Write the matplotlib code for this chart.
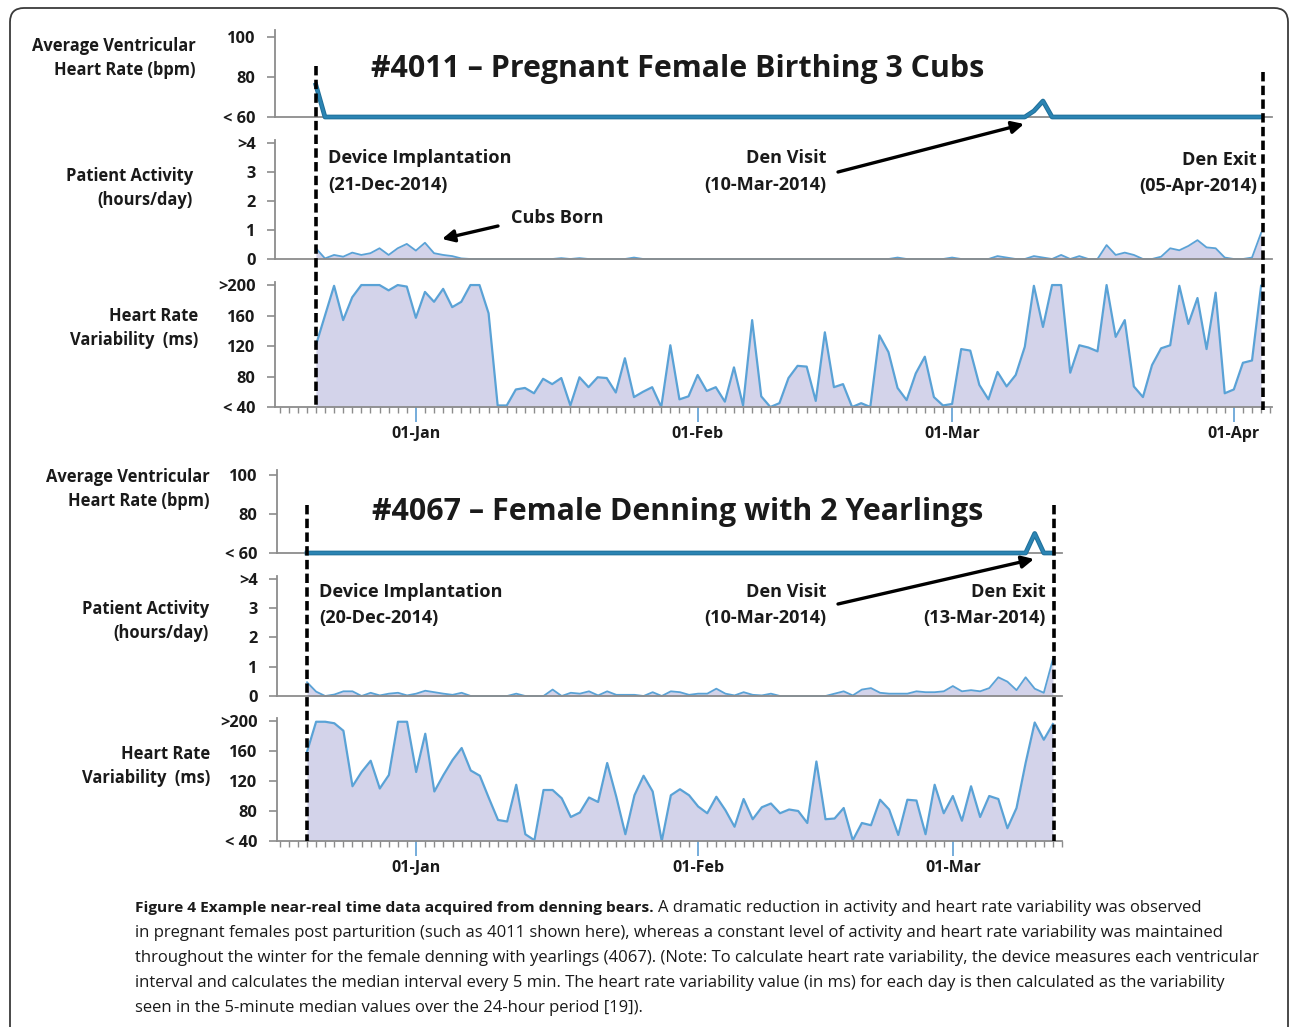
import numpy as np
import matplotlib
matplotlib.use('Agg')
import matplotlib.pyplot as plt
from matplotlib.lines import Line2D
from matplotlib.patches import FancyBboxPatch
from matplotlib.transforms import blended_transform_factory, IdentityTransform

plt.rcParams['font.family'] = ['Open Sans', 'DejaVu Sans']

# ---------------- data (day 0 = 01-Jan) ----------------
month_ticks = [0, 31, 59, 90]
month_labels = ['01-Jan', '01-Feb', '01-Mar', '01-Apr']

hr_ticks = [60, 80, 100]
hr_labels = ['< 60', '80', '100']
act_ticks = [0, 1, 2, 3, 4]
act_labels = ['0', '1', '2', '3', '>4']
hrv_ticks = [40, 80, 120, 160, 200]
hrv_labels = ['< 40', '80', '120', '160', '>200']

# Bear #4011 (first day 21-Dec = day -11)
b4011_start = -11
b4011_hr = [76] + [60] * 78 + [63, 68] + [60] * 24
b4011_activity = [0.37, 0.02, 0.14, 0.08, 0.22, 0.14, 0.20, 0.37, 0.14, 0.37, 0.52,
                  0.29, 0.56, 0.20, 0.14, 0.10, 0.02, 0, 0, 0, 0,
                  0, 0, 0, 0, 0, 0, 0.03, 0, 0.03, 0,
                  0, 0, 0, 0, 0.05, 0, 0, 0, 0, 0,
                  0, 0, 0, 0, 0, 0, 0, 0, 0, 0,
                  0, 0, 0, 0, 0, 0, 0, 0, 0, 0,
                  0, 0, 0, 0.05, 0, 0, 0, 0, 0, 0.05,
                  0, 0, 0, 0, 0.10, 0.05, 0, 0, 0.10, 0.05,
                  0, 0.14, 0, 0.10, 0, 0, 0.48, 0.14, 0.22, 0.14,
                  0, 0, 0.08, 0.37, 0.30, 0.45, 0.65, 0.40, 0.37, 0.05,
                  0, 0, 0.05, 0.90]
b4011_hrv = [121, 160, 199, 154, 184, 200, 200, 200, 193, 200, 198,
             157, 191, 178, 195, 171, 178, 200, 200, 163, 42,
             42, 63, 65, 58, 77, 70, 78, 42, 79, 66,
             79, 78, 59, 104, 53, 60, 66, 40, 121, 50,
             54, 82, 61, 66, 47, 92, 42, 154, 54, 40,
             45, 78, 94, 93, 48, 138, 66, 70, 40, 45,
             40, 134, 112, 65, 49, 84, 106, 53, 42, 44,
             116, 114, 69, 50, 86, 67, 82, 119, 199, 145,
             200, 200, 85, 121, 118, 113, 200, 132, 154, 67,
             53, 95, 117, 121, 199, 149, 183, 116, 190, 58,
             63, 98, 101, 199]
b4011_events = [-11, 93.2]

# Bear #4067 (first day 20-Dec = day -12)
b4067_start = -12
b4067_hr = [60] * 80 + [70] + [60] * 2
b4067_activity = [0.47, 0.15, 0, 0.05, 0.16, 0.16, 0, 0.11, 0.02, 0.08, 0.11, 0.02,
                  0.08, 0.18, 0.13, 0.08, 0.04, 0.11, 0, 0, 0, 0,
                  0, 0.08, 0, 0, 0, 0.22, 0, 0.11, 0.08, 0.16,
                  0.02, 0.16, 0.04, 0.04, 0.04, 0, 0.13, 0, 0.16, 0.13,
                  0.04, 0.08, 0.08, 0.25, 0.08, 0.02, 0.13, 0.04, 0.02, 0.08,
                  0, 0, 0, 0, 0, 0, 0.08, 0.16, 0.02, 0.22,
                  0.27, 0.11, 0.08, 0.08, 0.08, 0.16, 0.13, 0.13, 0.16, 0.34,
                  0.16, 0.20, 0.16, 0.27, 0.64, 0.49, 0.20, 0.64, 0.25, 0.11,
                  1.26]
b4067_hrv = [159, 199, 199, 197, 187, 113, 132, 147, 110, 128, 199, 199,
             132, 183, 106, 128, 148, 164, 134, 127, 97, 68,
             66, 115, 49, 41, 108, 108, 97, 72, 78, 98,
             92, 144, 99, 49, 101, 127, 106, 40, 101, 109,
             101, 86, 77, 99, 81, 59, 96, 69, 85, 90,
             77, 82, 80, 64, 146, 69, 70, 84, 41, 64,
             61, 95, 82, 48, 95, 94, 49, 115, 77, 100,
             67, 113, 72, 100, 96, 57, 84, 144, 198, 175,
             196]
b4067_events = [-12, 70.1]

# ---------------- figure ----------------
W, H = 1290, 1027
fig = plt.figure(figsize=(W / 100, H / 100), dpi=100)


def fx(x):
    return x / W


def fy(y):
    return 1 - y / H


def rect(x0, x1, ytop, ybot):
    return [fx(x0), fy(ybot), (x1 - x0) / W, (ybot - ytop) / H]


GRAY = '#8c8c8c'
FILL = '#d3d3ea'
LINE = '#5aa2d6'
HRC = '#2b84b3'
TXT = '#1a1a1a'
TICK_FS = 11.8
MONTH_FS = 11.5
LAB_FS = 11.9
ANN_FS = 13.1
TITLE_FS = 21.9


def base_style(ax, ticks, labels, ylim, xlim):
    ax.set_xlim(*xlim)
    ax.set_ylim(*ylim)
    for s in ['top', 'right']:
        ax.spines[s].set_visible(False)
    for s in ['left', 'bottom']:
        ax.spines[s].set_color(GRAY)
        ax.spines[s].set_linewidth(1.3)
    ax.set_yticks(ticks)
    ax.set_yticklabels(labels, fontweight='bold', fontsize=TICK_FS, color=TXT)
    ax.tick_params(axis='y', direction='out', length=6, width=1.2, color=GRAY, pad=8)
    ax.set_xticks([])
    ax.patch.set_alpha(0)


def panel(x0, x1, rows, xlim, start, hr, act, hrv, events, ev_y):
    (hr_t, hr_b, hr_top), (a_t, a_b, a_top), (v_t, v_b, v_top) = rows
    ax_hr = fig.add_axes(rect(x0, x1, hr_t, hr_b))
    ax_act = fig.add_axes(rect(x0, x1, a_t, a_b))
    ax_hrv = fig.add_axes(rect(x0, x1, v_t, v_b))
    base_style(ax_hr, hr_ticks, hr_labels, (60, hr_top), xlim)
    base_style(ax_act, act_ticks, act_labels, (0, a_top), xlim)
    base_style(ax_hrv, hrv_ticks, hrv_labels, (40, v_top), xlim)

    d_hr = np.arange(start, start + len(hr))
    d_act = np.arange(start, start + len(act))
    d_hrv = np.arange(start, start + len(hrv))

    ax_hr.plot(d_hr, hr, color='#1f6f99', lw=3.4, clip_on=False, zorder=3,
               solid_joinstyle='round')
    ax_hr.plot(d_hr, hr, color=HRC, lw=2.0, clip_on=False, zorder=4,
               solid_joinstyle='round')

    ax_act.fill_between(d_act, act, 0, color=FILL, lw=0, zorder=1)
    ax_act.plot(d_act, act, color=LINE, lw=1.3, zorder=2, clip_on=False)

    ax_hrv.fill_between(d_hrv, hrv, 40, color=FILL, lw=0, zorder=1)
    ax_hrv.plot(d_hrv, hrv, color=LINE, lw=1.6, zorder=2)

    # x axis with daily minor ticks and month major ticks
    ax_hrv.set_xticks(month_ticks)
    ax_hrv.set_xticklabels(month_labels, fontweight='bold', fontsize=MONTH_FS, color=TXT)
    ax_hrv.set_xticks(np.arange(int(np.ceil(xlim[0])), int(xlim[1]) + 1), minor=True)
    ax_hrv.tick_params(axis='x', which='major', direction='out', length=11,
                       width=1.3, color='#6aa6d8', pad=3)
    ax_hrv.tick_params(axis='x', which='minor', direction='out', length=4,
                       width=1.0, color=GRAY)
    ax_hrv.set_xlim(*xlim)

    tr = blended_transform_factory(ax_hrv.transData, fig.transFigure)
    for ev, (ya, yb) in zip(events, ev_y):
        fig.add_artist(Line2D([ev, ev], [fy(ya), fy(yb)], transform=tr, color='black',
                              lw=2.6, linestyle=(0, (2.6, 1.2)), zorder=10))
    return ax_hr, ax_act, ax_hrv


panel(275, 1272,
      [(30, 117, 103.5), (140, 259, 4.1), (282, 407, 204)],
      (-15.5, 94.2), b4011_start, b4011_hr, b4011_activity, b4011_hrv,
      b4011_events, [(66, 407), (72, 410)])

panel(277, 1062,
      [(470, 553, 102.5), (576, 696, 4.1), (718, 841, 204)],
      (-15.3, 71.0), b4067_start, b4067_hr, b4067_activity, b4067_hrv,
      b4067_events, [(505, 841), (505, 841)])

# overlay for annotations
ov = fig.add_axes([0, 0, 1, 1])
ov.set_xlim(0, W)
ov.set_ylim(H, 0)
ov.axis('off')
ov.patch.set_alpha(0)

# left axis titles
for (x, y, s) in [(196, 58, 'Average Ventricular\nHeart Rate (bpm)'),
                  (193, 188, 'Patient Activity\n(hours/day)'),
                  (198, 328, 'Heart Rate\nVariability  (ms)'),
                  (210, 489, 'Average Ventricular\nHeart Rate (bpm)'),
                  (209, 621, 'Patient Activity\n(hours/day)'),
                  (210, 766, 'Heart Rate\nVariability  (ms)')]:
    ov.text(x, y, s, ha='right', va='center', fontsize=LAB_FS, fontweight='bold',
            color=TXT, linespacing=1.45)

# titles
ov.text(678, 69, '#4011 \u2013 Pregnant Female Birthing 3 Cubs', ha='center', va='center',
        fontsize=TITLE_FS, fontweight='bold', color=TXT)
ov.text(678, 512, '#4067 \u2013 Female Denning with 2 Yearlings', ha='center', va='center',
        fontsize=TITLE_FS, fontweight='bold', color=TXT)

ann = [(328, 158, 'Device Implantation', 'left'), (328, 185, '(21-Dec-2014)', 'left'),
       (826, 158, 'Den Visit', 'right'), (826, 185, '(10-Mar-2014)', 'right'),
       (1257, 160, 'Den Exit', 'right'), (1257, 186, '(05-Apr-2014)', 'right'),
       (511, 218, 'Cubs Born', 'left'),
       (319, 592, 'Device Implantation', 'left'), (319, 618, '(20-Dec-2014)', 'left'),
       (826, 592, 'Den Visit', 'right'), (826, 618, '(10-Mar-2014)', 'right'),
       (1046, 592, 'Den Exit', 'right'), (1046, 618, '(13-Mar-2014)', 'right')]
for x, y, s, ha in ann:
    ov.text(x, y, s, ha=ha, va='center', fontsize=ANN_FS, fontweight='bold', color=TXT)

arrow_kw = dict(arrowstyle='-|>', lw=2.4, color='black', mutation_scale=18,
                shrinkA=0, shrinkB=0)
for (xa, ya, xb, yb) in [(498, 226, 442, 239), (838, 172, 1024, 124),
                         (838, 604, 1034, 559)]:
    ov.annotate('', xy=(xb, yb), xytext=(xa, ya), arrowprops=arrow_kw)

# caption
cap_font = ['Open Sans', 'DejaVu Sans']
bold = ov.text(135, 908, 'Figure 4 Example near-real time data acquired from denning bears.',
               ha='left', va='center', fontsize=11.15, fontweight='bold',
               family=cap_font, color=TXT)
ov.annotate('A dramatic reduction in activity and heart rate variability was observed',
            xy=(1, 0.5), xycoords=bold, xytext=(3.5, 0), textcoords='offset points',
            ha='left', va='center', fontsize=12.0, family=cap_font, color=TXT)
cap_lines = ['in pregnant females post parturition (such as 4011 shown here), whereas a constant level of activity and heart rate variability was maintained',
             'throughout the winter for the female denning with yearlings (4067). (Note: To calculate heart rate variability, the device measures each ventricular',
             'interval and calculates the median interval every 5 min. The heart rate variability value (in ms) for each day is then calculated as the variability',
             'seen in the 5-minute median values over the 24-hour period [19]).']
for i, s in enumerate(cap_lines):
    ov.text(135, 933 + 25 * i, s, ha='left', va='center', fontsize=12.0,
            family=cap_font, color=TXT)

# rounded border
border = FancyBboxPatch((10, -40), 1278, H - 8 + 40, boxstyle='round,pad=0,rounding_size=14',
                        transform=IdentityTransform(), fill=False, ec='#3a3a3a', lw=1.3)
fig.add_artist(border)

fig.savefig('out.png', dpi=100)
